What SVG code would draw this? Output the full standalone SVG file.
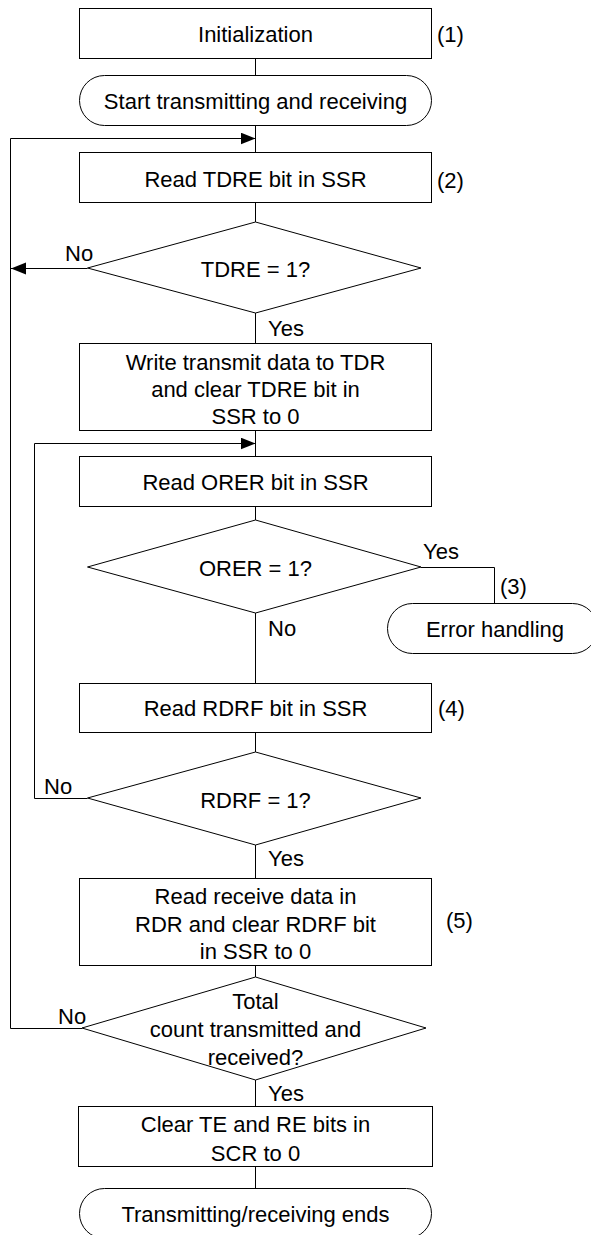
<svg xmlns="http://www.w3.org/2000/svg" width="591" height="1235" viewBox="0 0 591 1235">
<style>
.s{fill:#fff;stroke:#000;stroke-width:1}
.c{fill:none;stroke:#000;stroke-width:1}
text{font-family:"Liberation Sans",Arial,sans-serif;font-size:22px;fill:#000;dominant-baseline:central}
.m{text-anchor:middle}
</style>
<defs>
<marker id="ah" markerUnits="userSpaceOnUse" markerWidth="16" markerHeight="13" refX="15" refY="6" orient="auto">
<path d="M0,0 L15,6 L0,12 Z" fill="#000"/>
</marker>
</defs>
<rect width="591" height="1235" fill="#fff"/>
<g id="connectors">
<path class="c" d="M255.5,58 V75"/>
<path class="c" d="M255.5,125 V152"/>
<path class="c" d="M255.5,202 V222"/>
<path class="c" d="M255.5,313 V343"/>
<path class="c" d="M255.5,430 V456"/>
<path class="c" d="M255.5,506 V520"/>
<path class="c" d="M255.5,613 V683"/>
<path class="c" d="M255.5,732 V752"/>
<path class="c" d="M255.5,845 V878"/>
<path class="c" d="M255.5,965 V977"/>
<path class="c" d="M255.5,1080 V1106"/>
<path class="c" d="M255.5,1166 V1188"/>
<path class="c" d="M82,1028.5 H10.5 V138.5 H255.5" marker-end="url(#ah)"/>
<path class="c" d="M87.5,268.5 H11" marker-end="url(#ah)"/>
<path class="c" d="M87.5,798.5 H34.5 V443.5 H255.5" marker-end="url(#ah)"/>
<path class="c" d="M421,567.5 H494.5 V603"/>
<text x="65" y="253">No</text>
<text x="268" y="328">Yes</text>
<text x="423" y="551">Yes</text>
<text x="268" y="628">No</text>
<text x="44" y="786">No</text>
<text x="268" y="858">Yes</text>
<text x="58" y="1016">No</text>
<text x="268" y="1093">Yes</text>
</g>
<g id="n1">
<rect class="s" x="79.5" y="8.5" width="352" height="50"/>
<text class="m" x="255.5" y="34">Initialization</text>
<text x="437" y="34">(1)</text>
</g>
<g id="n2">
<rect class="s" x="79.5" y="75.5" width="352" height="50" rx="25" ry="25"/>
<text class="m" x="255.5" y="101">Start transmitting and receiving</text>
</g>
<g id="n3">
<rect class="s" x="79.5" y="152.5" width="352" height="50"/>
<text class="m" x="255.5" y="179">Read TDRE bit in SSR</text>
<text x="437" y="180">(2)</text>
</g>
<g id="n4">
<path class="s" d="M255.5,222 L421,268 L255.5,313 L87.5,268 Z"/>
<text class="m" x="255.5" y="269">TDRE = 1?</text>
</g>
<g id="n5">
<rect class="s" x="79.5" y="343.5" width="352" height="87"/>
<text class="m" x="255.5" y="362">Write transmit data to TDR</text>
<text class="m" x="255.5" y="389">and clear TDRE bit in</text>
<text class="m" x="255.5" y="416">SSR to 0</text>
</g>
<g id="n6">
<rect class="s" x="79.5" y="456.5" width="352" height="50"/>
<text class="m" x="255.5" y="482">Read ORER bit in SSR</text>
</g>
<g id="n7">
<path class="s" d="M255.5,520 L421,567 L255.5,613 L87.5,567 Z"/>
<text class="m" x="255.5" y="568">ORER = 1?</text>
</g>
<g id="n8">
<rect class="s" x="387.5" y="603.5" width="210" height="50" rx="25" ry="25"/>
<text class="m" x="495" y="629">Error handling</text>
<text x="500" y="586">(3)</text>
</g>
<g id="n9">
<rect class="s" x="79.5" y="683.5" width="352" height="49"/>
<text class="m" x="255.5" y="708">Read RDRF bit in SSR</text>
<text x="438" y="708">(4)</text>
</g>
<g id="n10">
<path class="s" d="M255.5,752 L421,798 L255.5,845 L87.5,798 Z"/>
<text class="m" x="255.5" y="800">RDRF = 1?</text>
</g>
<g id="n11">
<rect class="s" x="79.5" y="878.5" width="352" height="87"/>
<text class="m" x="255.5" y="896">Read receive data in</text>
<text class="m" x="255.5" y="924">RDR and clear RDRF bit</text>
<text class="m" x="255.5" y="951">in SSR to 0</text>
<text x="446" y="920">(5)</text>
</g>
<g id="n12">
<path class="s" d="M255.5,977 L426,1028 L255.5,1080 L82,1028 Z"/>
<text class="m" x="255.5" y="1001">Total</text>
<text class="m" x="255.5" y="1029">count transmitted and</text>
<text class="m" x="255.5" y="1057">received?</text>
</g>
<g id="n13">
<rect class="s" x="78.5" y="1106.5" width="354" height="60"/>
<text class="m" x="255.5" y="1124">Clear TE and RE bits in</text>
<text class="m" x="255.5" y="1153">SCR to 0</text>
</g>
<g id="n14">
<rect class="s" x="79.5" y="1188.5" width="352" height="50" rx="25" ry="25"/>
<text class="m" x="255.5" y="1214">Transmitting/receiving ends</text>
</g>
</svg>
